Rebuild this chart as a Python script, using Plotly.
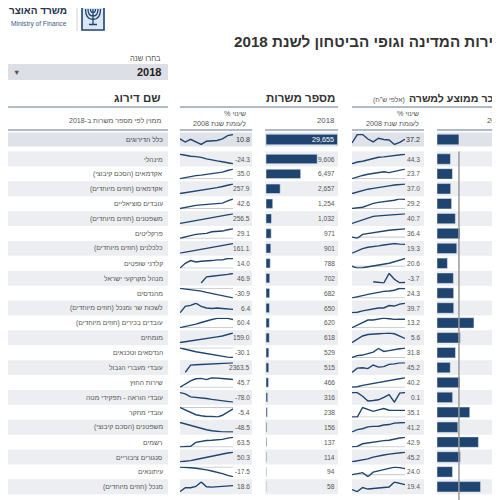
import plotly.graph_objects as go

W = H = 500
OFF = 8  # the page body margin shifts the figure by 8px

years = list(range(2008, 2019))

grades = [
    "מינהלי", "אקדמאים (הסכם קיבוצי)", "אקדמאים (חוזים מיוחדים)", "עובדים סוציאליים",
    "משפטנים (חוזים מיוחדים)", "פרקליטים", "כלכלנים (חוזים מיוחדים)", "קלדני שופטים",
    "מנהל מקרקעי ישראל", "מהנדסים", "לשכות שר ומנכל (חוזים מיוחדים)",
    "עובדים בכירים (חוזים מיוחדים)", "מומחים", "הנדסאים וטכנאים", "עובדי מעברי הגבול",
    "שירות החוץ", "עובדי הוראה - תפקידי מטה", "עובדי מחקר", "משפטנים (הסכם קיבוצי)",
    "רשמים", "סנגורים ציבוריים", "עיתונאים", "מנכל (חוזים מיוחדים)",
]
jobs_2018 = [9606, 6497, 2657, 1254, 1032, 971, 901, 788, 702, 682, 650, 620,
             618, 529, 515, 466, 316, 238, 156, 137, 114, 94, 58]
salary_2018 = [13.2, 15.1, 13.4, 14.3, 18.0, 22.5, 19.4, 10.2, 16.1, 16.3, 16.4, 36.2,
               22.8, 18.1, 13.0, 22.4, 15.3, 32.1, 20.4, 40.6, 22.9, 15.2, 42.7]

# % change vs 2008, one series per grade (last point = label)
jobs_trend = [
    [0, -3, -5, -6, -8, -12, -15, -17, -19, -22, -24.3],
    [0, 4, 8, 11, 13, 16, 18, 20, 24, 30, 35.0],
    [0, 20, 40, 60, 85, 105, 130, 160, 190, 225, 257.9],
    [0, 5, 10, 14, 16, 18, 19, 20, 24, 34, 42.6],
    [0, 25, 50, 75, 100, 125, 150, 175, 200, 230, 256.5],
    [0, 3, 8, 12, 13, 15, 20, 21, 22, 26, 29.1],
    [0, 15, 30, 48, 65, 80, 95, 110, 125, 145, 161.1],
    [0, 7, 11, 9, 10, 10, 11, 12, 12, 14, 14.0],
    [None, None, None, None, 0, 30, 33, 35, 38, 42, 46.9],
    [0, -2, -4, -5, -9, -13, -17, -20, -24, -27, -30.9],
    [0, 12, 14, 18, 12, 9, 8, 9, 8, 7, 6.4],
    [0, 8, 16, 26, 38, 50, 60, 68, 70, 68, 60.4],
    [0, 12, 25, 38, 52, 65, 80, 95, 110, 130, 159.0],
    [0, -5, -8, -12, -15, -19, -22, -25, -27, -29, -30.1],
    [None, 0, 1800, 1900, 1950, 2000, 2050, 2100, 2150, 2250, 2363.5],
    [0, 20, 38, 50, 52, 45, 56, 54, 50, 48, 45.7],
    [0, -10, -35, -38, -40, -48, -55, -62, -68, -74, -78.0],
    [0, -10, -20, -28, -32, -35, -35, -37, -30, -18, -5.4],
    [0, -8, -15, -22, -30, -37, -42, -46, -48, -48.5, -48.5],
    [0, 2, 4, 30, 38, 42, 44, 46, 50, 58, 63.5],
    [0, 2, 6, 12, 18, 25, 32, 38, 42, 46, 50.3],
    [0, 0, -1, -2, -3, -5, -7, -9, -12, -15, -17.5],
    [0, 12, 12, 16, 30, 15, 14, 15, 18, 17, 18.6],
]
salary_trend = [
    [0, 8, 12, 18, 25, 30, 32, 35, 38, 41, 44.3],
    [0, 5, 8, 11, 13, 15, 17, 15, 18, 20, 23.7],
    [0, 6, 12, 17, 20, 24, 27, 30, 33, 36, 37.0],
    [0, 2, 4, 10, 16, 19, 21, 23, 26, 30, 29.2],
    [0, 8, 15, 22, 30, 32, 34, 36, 38, 40, 40.7],
    [0, -5, 12, 16, 20, 24, 28, 30, 32, 35, 36.4],
    [0, 5, 10, 13, 14, 16, 18, 20, 21, 20, 19.3],
    [0, -5, -4, -2, 0, 2, 5, 8, 12, 16, 20.6],
    [None, None, None, None, 0, -2, -6, 40, 12, -5, -3.7],
    [0, 4, 6, 9, 12, 15, 17, 18, 20, 25, 24.3],
    [0, 2, 8, 12, 16, 20, 20, 30, 28, 36, 39.7],
    [0, 4, 9, 12, 12, 14, 15, 14, 13, 13.5, 13.2],
    [0, 5, 9, 11, 12, 12, 12.5, 13, 12, 9, 5.6],
    [0, 6, 8, 12, 18, 30, 20, 23, 25, 29, 31.8],
    [0, 20, 22, 18, 35, 25, 27, 38, 40, 45, 45.2],
    [0, 2, 8, 12, 14, 20, 24, 28, 33, 37, 40.2],
    [0, 0, -15, -35, -33, -30, -20, -8, -40, -2, 0.1],
    [0, 0, 50, 40, 30, 38, 45, 36, 35, 35, 35.1],
    [0, 10, 14, 22, 24, 25, 30, 32, 38, 40, 41.2],
    [0, 2, 14, 18, 20, 24, 28, 30, 36, 40, 42.9],
    [0, 4, 8, 14, 22, 28, 32, 36, 40, 42, 45.2],
    [0, 5, 8, -8, 10, 15, 20, 24, 30, 28, 24.0],
    [0, -8, 8, 2, 4, 6, 8, 10, 30, 25, 19.4],
]

total_name = "כלל הדירוגים"
total_jobs = 29655
total_salary = 21.5
total_jobs_trend = [0, -8, -1, -7, -14, -6, -5, -4, 0, 8, 10.8]
total_salary_trend = [0, 85, 85, 40, 11, 48, 35, 30, -15, 5, 37.2]

navy = "#1f4470"
band = "#eceef2"
band_total = "#dfe2e8"
rule = "#97a3b5"
txt = "#555555"
FONT = "Liberation Sans, Arial, DejaVu Sans, sans-serif"
BODY = 6.8
VAL = 6.6


def px(x):
    return (x - OFF) / W


def py(y):
    return 1 - (y - OFF) / H


def rtl(s):
    return "\u202b" + s + "\u202c"


def ax(n, kind):
    return (kind + "axis") if n == 1 else f"{kind}axis{n}"


def ref(n, kind):
    return kind if n == 1 else f"{kind}{n}"


ROW0 = 159.0
ROWH = 14.9
RIGHT = W + OFF
BOTTOM = H + OFF
COLS = [(8, 168), (180, 252), (265, 338), (352, 424), (437, RIGHT)]
SPARK1 = (180, 233)
SPARK2 = (352, 405)
SAL_SCALE = 1.02  # px per thousand

fig = go.Figure()
layout_axes = {}
shapes = []
ann = []

rows_top = ROW0 - ROWH / 2
rows_range = [-0.5 + (BOTTOM - rows_top) / ROWH, -0.5]
sal_range = [0, (RIGHT - 437) / SAL_SCALE]

# 1: jobs bars, 2: salary bars, 3: total jobs, 4: total salary
layout_axes[ax(1, "x")] = dict(domain=[px(266), px(338)], range=[0, 13500], anchor="y", visible=False)
layout_axes[ax(1, "y")] = dict(domain=[0, py(rows_top)], range=rows_range, anchor="x", visible=False)
layout_axes[ax(2, "x")] = dict(domain=[px(437), 1], range=sal_range, anchor="y2", visible=False)
layout_axes[ax(2, "y")] = dict(domain=[0, py(rows_top)], range=rows_range, anchor="x2", visible=False)
layout_axes[ax(3, "x")] = dict(domain=[px(266), px(337.5)], range=[0, total_jobs], anchor="y3", visible=False)
layout_axes[ax(3, "y")] = dict(domain=[py(146.5), py(132.5)], range=[-0.5, 0.5], anchor="x3", visible=False)
layout_axes[ax(4, "x")] = dict(domain=[px(437), 1], range=sal_range, anchor="y4", visible=False)
layout_axes[ax(4, "y")] = dict(domain=[py(146.5), py(132.5)], range=[-0.5, 0.5], anchor="x4", visible=False)

n_rows = len(grades)
idx = list(range(n_rows))

fig.add_trace(go.Bar(x=jobs_2018, y=idx, orientation="h", width=0.63, marker_color=navy,
                     xaxis="x", yaxis="y", hoverinfo="skip"))
fig.add_trace(go.Bar(x=salary_2018, y=idx, orientation="h", width=0.7, marker_color=navy,
                     xaxis="x2", yaxis="y2", hoverinfo="skip"))
fig.add_trace(go.Bar(x=[total_jobs], y=[0], orientation="h", width=0.75, marker_color=navy,
                     xaxis="x3", yaxis="y3", hoverinfo="skip"))
fig.add_trace(go.Bar(x=[total_salary], y=[0], orientation="h", width=0.75, marker_color=navy,
                     xaxis="x4", yaxis="y4", hoverinfo="skip"))

# average salary reference line
shapes.append(dict(type="line", xref="x2", x0=total_salary, x1=total_salary,
                   yref="paper", y0=0, y1=py(rows_top), line=dict(color="#9a9a9a", width=1.5)))


def add_spark(n, series, xdom, ydom):
    layout_axes[ax(n, "x")] = dict(domain=xdom, range=[years[0], years[-1]], anchor=ref(n, "y"), visible=False)
    layout_axes[ax(n, "y")] = dict(domain=ydom, anchor=ref(n, "x"), visible=False)
    shapes.append(dict(type="line", xref=ref(n, "x") + " domain", x0=0, x1=1,
                       yref=ref(n, "y"), y0=0, y1=0, layer="below",
                       line=dict(color="#c4c7cc", width=1)))
    fig.add_trace(go.Scatter(x=years, y=series, mode="lines", line=dict(color=navy, width=1.4),
                             xaxis=ref(n, "x"), yaxis=ref(n, "y"), hoverinfo="skip"))


# total row
tdom = [py(145), py(134)]
add_spark(5, total_jobs_trend, [px(SPARK1[0]), px(SPARK1[1])], tdom)
add_spark(6, total_salary_trend, [px(SPARK2[0]), px(SPARK2[1])], tdom)
for x0, x1 in COLS:
    shapes.append(dict(type="rect", xref="paper", yref="paper", x0=px(x0), x1=px(x1),
                       y0=py(146.5), y1=py(132.5), fillcolor=band_total, line_width=0, layer="below"))

n = 7
for i in range(n_rows):
    c = ROW0 + ROWH * i
    ydom = [py(c + 5.3), py(c - 5.3)]
    if ydom[0] >= 0:
        add_spark(n, jobs_trend[i], [px(SPARK1[0]), px(SPARK1[1])], ydom)
        add_spark(n + 1, salary_trend[i], [px(SPARK2[0]), px(SPARK2[1])], ydom)
    n += 2
    if i % 2 == 0:
        for x0, x1 in COLS:
            shapes.append(dict(type="rect", xref="paper", yref="paper", x0=px(x0), x1=px(x1),
                               y0=max(py(c + ROWH / 2), 0), y1=py(c - ROWH / 2),
                               fillcolor=band, line_width=0, layer="below"))

# row labels and values
for i in range(n_rows):
    ann.append(dict(text=rtl(grades[i]), x=px(165), xanchor="right", xref="paper", y=i, yref="y",
                    font=dict(size=BODY, color=txt)))
    ann.append(dict(text=f"{jobs_trend[i][-1]:.1f}", x=px(252), xanchor="right", xref="paper", y=i, yref="y",
                    font=dict(size=VAL, color=txt)))
    ann.append(dict(text=f"{jobs_2018[i]:,}", x=px(337), xanchor="right", xref="paper", y=i, yref="y",
                    font=dict(size=VAL, color=txt)))
    ann.append(dict(text=f"{salary_trend[i][-1]:.1f}", x=px(422), xanchor="right", xref="paper", y=i, yref="y",
                    font=dict(size=VAL, color=txt)))
    ann.append(dict(text=f"{salary_2018[i]:.1f}", x=px(490), xanchor="left", xref="paper", y=i, yref="y",
                    font=dict(size=VAL, color=txt)))

ann.append(dict(text=rtl(total_name), x=px(165), xanchor="right", xref="paper", y=0, yref="y3",
                font=dict(size=BODY, color="#444")))
ann.append(dict(text=f"{total_jobs_trend[-1]:.1f}", x=px(252), xanchor="right", xref="paper", y=0, yref="y3",
                font=dict(size=7.2, color="#333")))
ann.append(dict(text=f"{total_jobs:,}", x=px(336), xanchor="right", xref="paper", y=0, yref="y3",
                font=dict(size=7.2, color="white")))
ann.append(dict(text=f"{total_salary_trend[-1]:.1f}", x=px(422), xanchor="right", xref="paper", y=0, yref="y3",
                font=dict(size=7.2, color="#333")))
ann.append(dict(text=f"{total_salary:.1f}", x=px(490), xanchor="left", xref="paper", y=0, yref="y3",
                font=dict(size=7.2, color="#333")))


def label(text, x, y, size, color="#333", anchor="right", bold=False):
    ann.append(dict(text=text, x=px(x), y=py(y), xref="paper", yref="paper", xanchor=anchor,
                    yanchor="middle", font=dict(size=size, color=color, weight="bold" if bold else "normal")))


# header / logo
label(rtl("משרד האוצר"), 69, 10, 10, "#23344c", bold=True)
label("Ministry of Finance", 69, 24, 6.6, "#3e5b80")
shapes.append(dict(type="line", xref="paper", yref="paper", x0=px(77), x1=px(77), y0=py(3), y1=py(31),
                   line=dict(color="#cfd4db", width=1)))
shapes.append(dict(type="rect", xref="paper", yref="paper", x0=px(82), x1=px(104), y0=py(30), y1=py(3),
                   fillcolor="#dde7f3", line=dict(color="#1f4470", width=1.6)))
menorah = f"M {px(93)},{py(9)} L {px(93)},{py(24)} M {px(89)},{py(24.5)} L {px(97)},{py(24.5)}"
for k in (2.5, 5, 7.5):
    menorah += (f" M {px(93 - k)},{py(9)} Q {px(93 - k)},{py(9 + k * 1.4)} {px(93)},{py(9 + k * 1.4)}"
                f" Q {px(93 + k)},{py(9 + k * 1.4)} {px(93 + k)},{py(9)}")
shapes.append(dict(type="path", xref="paper", yref="paper", path=menorah,
                   line=dict(color="#1f4470", width=1.3)))

label(rtl("שכר ומשרות בשירות המדינה וגופי הביטחון לשנת 2018"), 232, 41, 15.2, "#333", anchor="left", bold=True)

label(rtl("בחרו שנה"), 163, 59, 7.5, txt)
shapes.append(dict(type="rect", xref="paper", yref="paper", x0=px(8), x1=px(168), y0=py(80), y1=py(64),
                   fillcolor="#dcdfe5", line_width=0))
label("2018", 163, 72, 11, "#222", bold=True)
label("▼", 16, 72, 7.5, "#555", anchor="center")

label(rtl("שם דירוג"), 163, 98, 11.5, "#333", bold=True)
label(rtl("מספר משרות"), 337, 98, 11.5, "#333", bold=True)
label(rtl("שכר ממוצע למשרה"), 504, 98, 10.6, "#333", bold=True)
label(rtl("(אלפי ש\"ח)"), 407, 99.5, 6.8, txt)

for x0, x1 in [(8, 168), (180, 338), (352, RIGHT)]:
    shapes.append(dict(type="line", xref="paper", yref="paper", x0=px(x0), x1=px(x1), y0=py(107), y1=py(107),
                       line=dict(color=rule, width=1.6)))
for x0, x1 in COLS:
    shapes.append(dict(type="line", xref="paper", yref="paper", x0=px(x0), x1=px(x1), y0=py(130), y1=py(130),
                       line=dict(color=rule, width=1.6)))

label(rtl("ממוין לפי מספר משרות ב-2018"), 163, 121, 7, txt)
for xr in (248, 421):
    label(rtl("שינוי %"), xr, 113.5, 7.2, txt)
    label(rtl("לעומת שנת 2008"), xr, 124, 7.2, txt)
label("2018", 336, 121, 7.8, txt)
label("2018", 485, 121, 7.8, txt, anchor="left")

fig.update_layout(
    width=W, height=H,
    margin=dict(l=0, r=0, t=0, b=0),
    paper_bgcolor="white", plot_bgcolor="rgba(0,0,0,0)",
    showlegend=False,
    font=dict(family=FONT),
    shapes=shapes,
    annotations=[dict(showarrow=False, **a) for a in ann],
    **layout_axes,
)

fig.write_html("out.html")
